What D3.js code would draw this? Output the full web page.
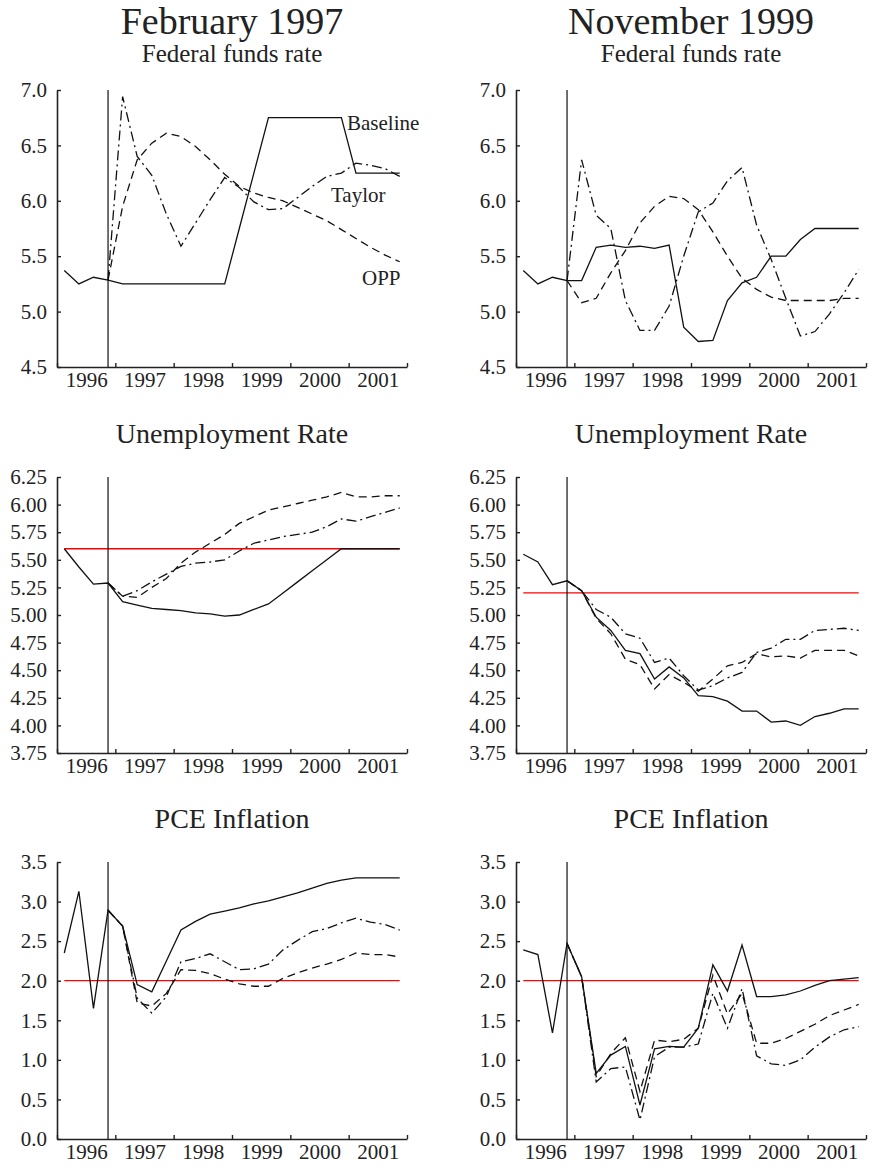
<!DOCTYPE html>
<html>
<head>
<meta charset="utf-8">
<script src="https://cdn.jsdelivr.net/npm/d3@7"></script>
<style>
  body { margin: 0; background: #fff; }
  svg text { font-family: 'Liberation Serif', Tinos, 'Times New Roman', Times, 'DejaVu Serif', serif !important; fill: #222; }
</style>
</head>
<body>
<svg id="chart" width="872" height="1167"></svg>
<script>
// quarterly observations, 1996Q1 .. 2001Q4
const quarters = [
  '1996Q1', '1996Q2', '1996Q3', '1996Q4', '1997Q1', '1997Q2', '1997Q3', '1997Q4',
  '1998Q1', '1998Q2', '1998Q3', '1998Q4', '1999Q1', '1999Q2', '1999Q3', '1999Q4',
  '2000Q1', '2000Q2', '2000Q3', '2000Q4', '2001Q1', '2001Q2', '2001Q3', '2001Q4'
];
const yearLabels = [1996, 1997, 1998, 1999, 2000, 2001];
const forecastStart = '1996Q4';

// February 1997 -- federal funds rate
const ffFebBaseline = [5.37, 5.25, 5.31, 5.285, 5.25, 5.25, 5.25, 5.25, 5.25, 5.25, 5.25, 5.25,
  5.75, 6.25, 6.75, 6.75, 6.75, 6.75, 6.75, 6.75, 6.25, 6.25, 6.25, 6.25];
const ffFebTaylor = [null, null, null, 5.285, 6.94, 6.40, 6.23, 5.88, 5.59, 5.80, 6.01, 6.21,
  6.12, 5.99, 5.92, 5.93, 6.03, 6.13, 6.22, 6.25, 6.34, 6.32, 6.29, 6.22];
const ffFebOPP = [null, null, null, 5.285, 5.95, 6.37, 6.52, 6.61, 6.58, 6.49, 6.37, 6.24,
  6.13, 6.07, 6.03, 6.00, 5.94, 5.88, 5.82, 5.74, 5.66, 5.58, 5.51, 5.45];

// November 1999 -- federal funds rate
const ffNovBaseline = [5.37, 5.25, 5.31, 5.28, 5.28, 5.58, 5.60, 5.58, 5.59, 5.57, 5.60, 4.86,
  4.73, 4.74, 5.10, 5.26, 5.31, 5.50, 5.50, 5.65, 5.75, 5.75, 5.75, 5.75];
const ffNovTaylor = [null, null, null, 5.28, 6.37, 5.87, 5.75, 5.10, 4.83, 4.83, 5.05, 5.50,
  5.90, 5.98, 6.18, 6.30, 5.78, 5.47, 5.12, 4.78, 4.82, 4.98, 5.17, 5.38];
const ffNovOPP = [null, null, null, 5.28, 5.08, 5.12, 5.35, 5.55, 5.80, 5.95, 6.04, 6.02,
  5.92, 5.72, 5.50, 5.30, 5.20, 5.13, 5.10, 5.10, 5.10, 5.10, 5.12, 5.12];

// February 1997 -- unemployment rate
const urFebBaseline = [5.60, 5.435, 5.28, 5.29, 5.12, 5.09, 5.06, 5.05, 5.04, 5.02, 5.01, 4.99,
  5.00, 5.05, 5.10, 5.20, 5.30, 5.40, 5.50, 5.60, 5.60, 5.60, 5.60, 5.60];
const urFebTaylor = [null, null, null, 5.29, 5.17, 5.22, 5.30, 5.37, 5.44, 5.47, 5.48, 5.50,
  5.58, 5.65, 5.68, 5.71, 5.73, 5.75, 5.80, 5.87, 5.85, 5.89, 5.93, 5.97];
const urFebOPP = [null, null, null, 5.29, 5.17, 5.16, 5.25, 5.33, 5.47, 5.57, 5.65, 5.73,
  5.83, 5.89, 5.95, 5.98, 6.01, 6.04, 6.07, 6.11, 6.07, 6.07, 6.08, 6.08];
const urFebTarget = 5.6;

// November 1999 -- unemployment rate
const urNovBaseline = [5.55, 5.48, 5.275, 5.31, 5.22, 4.98, 4.86, 4.68, 4.65, 4.42, 4.53, 4.43,
  4.27, 4.26, 4.22, 4.13, 4.13, 4.03, 4.04, 4.00, 4.08, 4.11, 4.15, 4.15];
const urNovTaylor = [null, null, null, 5.31, 5.22, 5.05, 4.98, 4.83, 4.79, 4.57, 4.61, 4.45,
  4.32, 4.36, 4.43, 4.48, 4.66, 4.70, 4.78, 4.78, 4.86, 4.87, 4.88, 4.86];
const urNovOPP = [null, null, null, 5.31, 5.22, 4.97, 4.83, 4.60, 4.55, 4.33, 4.46, 4.39,
  4.31, 4.42, 4.54, 4.57, 4.65, 4.62, 4.63, 4.61, 4.68, 4.68, 4.68, 4.63];
const urNovTarget = 5.2;

// February 1997 -- PCE inflation
const pceFebBaseline = [2.35, 3.13, 1.65, 2.89, 2.69, 1.95, 1.86, 2.25, 2.64, 2.75, 2.84, 2.88,
  2.92, 2.97, 3.01, 3.06, 3.11, 3.17, 3.23, 3.27, 3.30, 3.30, 3.30, 3.30];
const pceFebTaylor = [null, null, null, 2.89, 2.69, 1.78, 1.59, 1.80, 2.24, 2.28, 2.34, 2.24,
  2.14, 2.15, 2.21, 2.39, 2.51, 2.62, 2.66, 2.73, 2.79, 2.74, 2.71, 2.64];
const pceFebOPP = [null, null, null, 2.89, 2.69, 1.72, 1.68, 1.84, 2.14, 2.13, 2.09, 2.02,
  1.96, 1.93, 1.93, 2.03, 2.10, 2.16, 2.21, 2.27, 2.35, 2.33, 2.33, 2.30];
const pceFebTarget = 2.0;

// November 1999 -- PCE inflation
const pceNovBaseline = [2.39, 2.33, 1.34, 2.47, 2.05, 0.83, 1.06, 1.17, 0.43, 1.14, 1.17, 1.16,
  1.40, 2.20, 1.87, 2.45, 1.80, 1.80, 1.82, 1.87, 1.94, 2.00, 2.02, 2.04];
const pceNovTaylor = [null, null, null, 2.47, 2.05, 0.72, 0.89, 0.91, 0.24, 1.04, 1.16, 1.16,
  1.20, 1.84, 1.40, 1.90, 1.05, 0.95, 0.93, 1.00, 1.16, 1.29, 1.38, 1.42];
const pceNovOPP = [null, null, null, 2.47, 2.05, 0.79, 1.08, 1.28, 0.60, 1.25, 1.23, 1.26,
  1.40, 2.07, 1.58, 1.84, 1.21, 1.21, 1.27, 1.36, 1.45, 1.56, 1.63, 1.70];
const pceNovTarget = 2.0;

const ffTicks = [4.5, 5.0, 5.5, 6.0, 6.5, 7.0];
const urTicks = [3.75, 4.00, 4.25, 4.50, 4.75, 5.00, 5.25, 5.50, 5.75, 6.00, 6.25];
const pceTicks = [0.0, 0.5, 1.0, 1.5, 2.0, 2.5, 3.0, 3.5];

const svg = d3.select('#chart');

const columns = [[57, 407], [516, 866]];
const rows = [[90, 367], [477, 753], [862, 1139]];

const styles = {
  baseline: null,
  taylor: '10,4,2,4',
  opp: '8,5'
};

function qx(q) {
  return +q.slice(0, 4) + (+q.slice(5) - 0.5) / 4;
}

const panels = [
  {col: 0, row: 0, title: 'Federal funds rate', ticks: ffTicks, fmt: '.1f',
    series: {baseline: ffFebBaseline, taylor: ffFebTaylor, opp: ffFebOPP}, labels: true},
  {col: 1, row: 0, title: 'Federal funds rate', ticks: ffTicks, fmt: '.1f',
    series: {baseline: ffNovBaseline, taylor: ffNovTaylor, opp: ffNovOPP}},
  {col: 0, row: 1, title: 'Unemployment Rate', ticks: urTicks, fmt: '.2f', target: urFebTarget,
    series: {baseline: urFebBaseline, taylor: urFebTaylor, opp: urFebOPP}},
  {col: 1, row: 1, title: 'Unemployment Rate', ticks: urTicks, fmt: '.2f', target: urNovTarget,
    series: {baseline: urNovBaseline, taylor: urNovTaylor, opp: urNovOPP}},
  {col: 0, row: 2, title: 'PCE Inflation', ticks: pceTicks, fmt: '.1f', target: pceFebTarget,
    series: {baseline: pceFebBaseline, taylor: pceFebTaylor, opp: pceFebOPP}},
  {col: 1, row: 2, title: 'PCE Inflation', ticks: pceTicks, fmt: '.1f', target: pceNovTarget,
    series: {baseline: pceNovBaseline, taylor: pceNovTaylor, opp: pceNovOPP}}
];

// column headings
['February 1997', 'November 1999'].forEach(function (t, i) {
  svg.append('text')
    .attr('x', (columns[i][0] + columns[i][1]) / 2)
    .attr('y', 34)
    .attr('text-anchor', 'middle')
    .style('font-size', '38px')
    .text(t);
});

const titleY = [62, 443, 828];
const titleSize = ['25px', '28px', '28px'];

panels.forEach(function (p) {
  const [x0, x1] = columns[p.col];
  const [yTop, yBot] = rows[p.row];
  const x = d3.scaleLinear().domain([1996, 2002]).range([x0, x1]);
  const y = d3.scaleLinear().domain(d3.extent(p.ticks)).range([yBot, yTop]);
  const g = svg.append('g');

  g.append('text')
    .attr('x', (x0 + x1) / 2)
    .attr('y', titleY[p.row])
    .attr('text-anchor', 'middle')
    .style('font-size', titleSize[p.row])
    .text(p.title);

  // x axis: year boundaries, labels mid-year
  const xAxis = g.append('g').attr('transform', 'translate(0,' + yBot + ')');
  xAxis.call(d3.axisBottom(x)
    .tickValues(d3.range(1996, 2003))
    .tickSizeInner(-4).tickSizeOuter(0)
    .tickFormat(''));
  xAxis.append('g').call(d3.axisBottom(x)
    .tickValues(yearLabels.map(function (yr) { return yr + 0.5; }))
    .tickSize(0).tickPadding(5)
    .tickFormat(function (d) { return String(Math.floor(d)); }))
    .call(function (s) { s.select('.domain').remove(); });

  const yAxis = g.append('g').attr('transform', 'translate(' + x0 + ',0)');
  yAxis.call(d3.axisLeft(y)
    .tickValues(p.ticks)
    .tickSizeInner(-4).tickSizeOuter(0)
    .tickPadding(10)
    .tickFormat(d3.format(p.fmt)));

  g.selectAll('g').attr('font-family', null);
  g.selectAll('.domain').attr('stroke', '#222').attr('stroke-width', 1.6);
  g.selectAll('.tick line').attr('stroke', '#222').attr('stroke-width', 1.4);
  g.selectAll('.tick text')
    .style('font-size', '21px')
    .attr('fill', '#222');

  // target line
  if (p.target !== undefined) {
    g.append('line')
      .attr('x1', x(qx(quarters[0]))).attr('x2', x(qx(quarters[quarters.length - 1])))
      .attr('y1', y(p.target)).attr('y2', y(p.target))
      .attr('stroke', '#ff0000').attr('stroke-width', 1.3);
  }

  // forecast start marker
  g.append('line')
    .attr('x1', x(qx(forecastStart))).attr('x2', x(qx(forecastStart)))
    .attr('y1', yTop).attr('y2', yBot)
    .attr('stroke', '#111').attr('stroke-width', 1.2);

  const line = d3.line()
    .defined(function (d) { return d[1] !== null; })
    .x(function (d) { return x(qx(d[0])); })
    .y(function (d) { return y(d[1]); });

  ['opp', 'taylor', 'baseline'].forEach(function (k) {
    const pts = quarters.map(function (q, i) { return [q, p.series[k][i]]; });
    g.append('path')
      .datum(pts)
      .attr('d', line)
      .attr('fill', 'none')
      .attr('stroke', '#111')
      .attr('stroke-width', 1.3)
      .attr('stroke-dasharray', styles[k]);
  });

  if (p.labels) {
    [['Baseline', 347, 130], ['Taylor', 331, 202], ['OPP', 362, 285]].forEach(function (l) {
      g.append('text')
        .attr('x', l[1]).attr('y', l[2])
        .style('font-size', '21px')
        .text(l[0]);
    });
  }
});
</script>
</body>
</html>
